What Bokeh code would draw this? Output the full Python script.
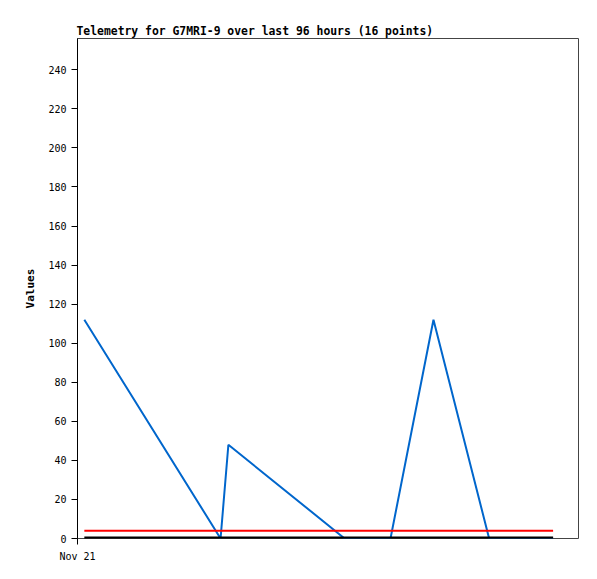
from bokeh.plotting import figure
from bokeh.models import Range1d, FixedTicker
from bokeh.embed import file_html
from bokeh.resources import INLINE

# hours since Nov 21 00:00
hours = [1.4, 29.3, 30.9, 54.7, 64.1, 72.9, 84.3, 97.4]
values = [112, 0, 48, 0, 0, 112, 0, 0]
limit_hours = [1.4, 97.4]
limit_values = [4, 4]
base_values = [0, 0]
x_ticks = [0]
x_tick_labels = ["Nov 21"]
y_ticks = [0, 20, 40, 60, 80, 100, 120, 140, 160, 180, 200, 220, 240]

p = figure(width=589, height=571, output_backend="svg", toolbar_location=None,
           x_range=Range1d(0, 102.6), y_range=Range1d(0, 256),
           min_border_left=77, min_border_top=38, min_border_right=10, min_border_bottom=25,
           title="Telemetry for G7MRI-9 over last 96 hours (16 points)")
p.frame_width = 501
p.frame_height = 500

p.title.text_font = "DejaVu Sans Mono"
p.title.text_font_size = "11.4px"
p.title.text_font_style = "bold"
p.title.text_color = "black"
p.title.align = "left"
p.title.offset = -1
p.title.standoff = 1

p.line(hours, values, line_color="#0066cc", line_width=2)
p.line(limit_hours, limit_values, line_color="#ff0000", line_width=2)
p.line(limit_hours, base_values, line_color="#000000", line_width=4)

p.grid.visible = False
p.outline_line_color = "#444444"
p.outline_line_width = 1

p.yaxis.ticker = FixedTicker(ticks=y_ticks)
p.xaxis.ticker = FixedTicker(ticks=x_ticks)
p.xaxis.major_label_overrides = {x_ticks[i]: x_tick_labels[i] for i in range(len(x_ticks))}
for ax in (p.xaxis, p.yaxis):
    ax.axis_line_color = "black"
    ax.major_tick_line_color = "black"
    ax.major_tick_out = 6
    ax.major_tick_in = 0
    ax.minor_tick_line_color = None
    ax.major_label_text_font = "DejaVu Sans Mono"
    ax.major_label_text_font_size = "10px"
    ax.major_label_text_color = "black"
p.yaxis.axis_label = "Values"
p.yaxis.axis_label_text_font = "DejaVu Sans Mono"
p.yaxis.axis_label_text_font_size = "11px"
p.yaxis.axis_label_text_font_style = "bold"
p.yaxis.axis_label_text_color = "black"
p.yaxis.axis_label_standoff = 8
p.xaxis.axis_line_color = None
p.xaxis.major_label_standoff = 6

open("out.html", "w").write(file_html(p, INLINE))
